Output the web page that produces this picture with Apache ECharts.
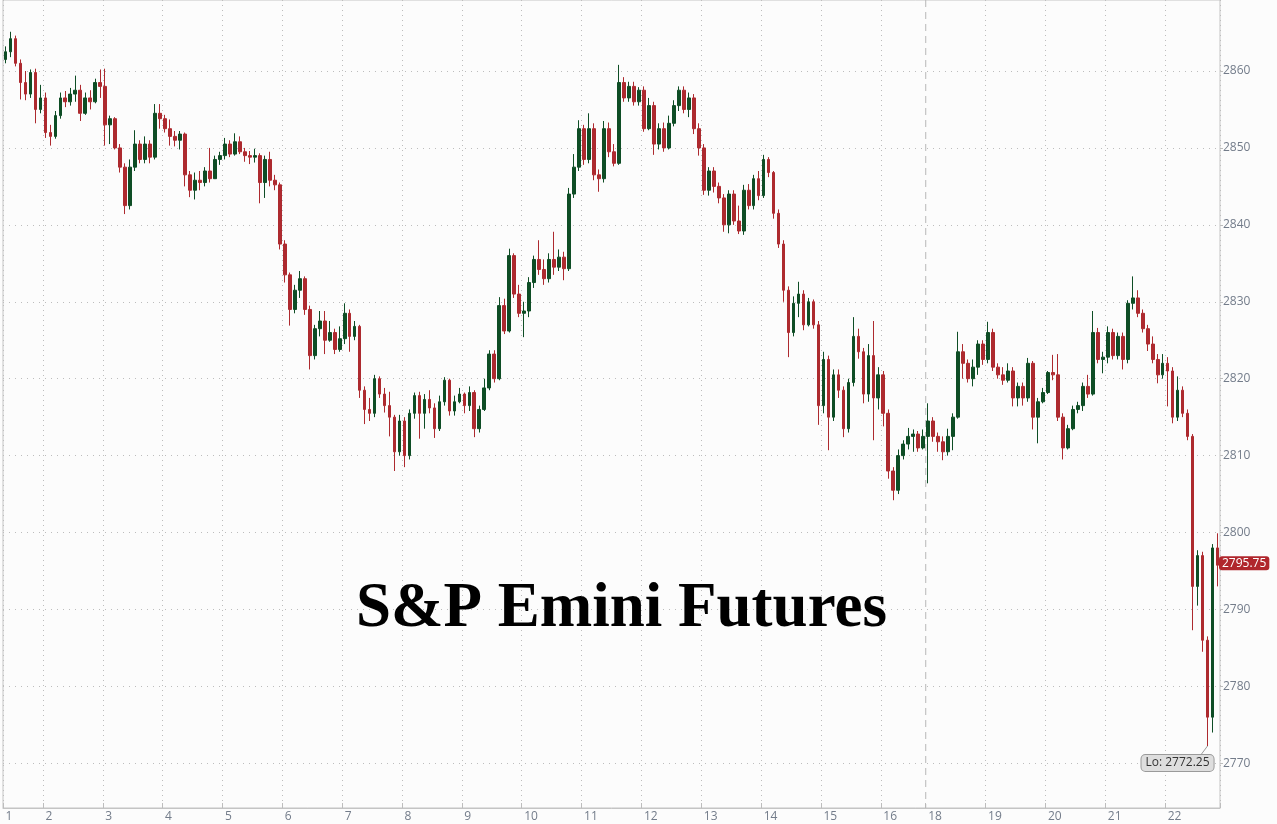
<!DOCTYPE html>
<html><head><meta charset="utf-8">
<script src="https://cdn.jsdelivr.net/npm/echarts@6/dist/echarts.min.js"></script>
<style>html,body{margin:0;padding:0;background:#fcfcfc;}#c{width:1277px;height:824px;}</style>
</head><body><div id="c"></div>
<script>
// ---- data: candles as [open, close, low, high] per trading day ----
const dayLabels = ['1','2','3','4','5','6','7','8','9','10','11','12','13','14','15','16','18','19','20','21','22'];
const day01 = [[2861.5,2862.5,2861,2863.2],[2862.5,2864.2,2861.8,2865.1],[2864.2,2861,2860.6,2864.6],[2861,2858.5,2856.3,2861.5],[2858.5,2857,2856.2,2860],[2857,2859.8,2856.5,2860.2],[2859.8,2855,2853.2,2860.3],[2855,2856.5,2854.5,2858.2]];
const day02 = [[2856.5,2852,2851.3,2857.2],[2852,2851.5,2850.3,2853],[2851.5,2854.2,2851.2,2854.8],[2854.2,2856.5,2853.8,2857.2],[2856.5,2856,2855.3,2857.4],[2856,2857,2855.5,2857.8],[2857,2857.5,2856,2859.4],[2857.5,2854.5,2853.5,2858.2],[2854.5,2856.5,2854.3,2857.2],[2856.5,2856,2855,2857.5],[2856,2858.5,2855.8,2859],[2858.5,2858,2856.5,2860.2]];
const day03 = [[2858,2853,2850.3,2860.3],[2853,2853.8,2850.5,2854.2],[2853.8,2850,2849.8,2854],[2850,2847.5,2846.8,2850.5],[2847.5,2842.5,2841.4,2848],[2842.5,2847.5,2842,2848.5],[2847.5,2850.5,2847,2852.3],[2850.5,2848.5,2848,2851],[2848.5,2850.5,2848,2851.5],[2850.5,2848.8,2848,2851],[2848.8,2854.5,2848.5,2855.7],[2854.5,2853.8,2852.5,2855.7]];
const day04 = [[2853.8,2852.5,2852,2854.3],[2852.5,2851.5,2850.3,2853.7],[2851.5,2851,2850.2,2852.2],[2851,2851.8,2849.8,2852.2],[2851.8,2846.5,2845,2852],[2846.5,2844.5,2843.6,2847],[2844.5,2845.8,2843.3,2846.8],[2845.8,2845.5,2844.5,2847],[2845.5,2847,2845,2847.5],[2847,2846,2845.5,2850],[2846,2848.5,2846,2849],[2848.5,2849,2847.8,2849.5]];
const day05 = [[2849,2850.5,2848.5,2851.3],[2850.5,2849.2,2848.8,2851],[2849.2,2850.8,2849,2851.9],[2850.8,2849.5,2849.2,2851.5],[2849.5,2849,2848.2,2850],[2849,2848.8,2847.9,2849.6],[2848.8,2849,2848.1,2849.9],[2849,2845.5,2842.8,2849.3],[2845.5,2848.5,2843.5,2849],[2848.5,2845.8,2845,2849.5],[2845.8,2845.2,2844.5,2846.5],[2845.2,2837.5,2836.8,2845.5]];
const day06 = [[2837.5,2833.5,2832.5,2838],[2833.5,2829,2826.9,2833.8],[2829,2831.5,2828.5,2832.2],[2831.5,2833,2830.5,2834],[2833,2829,2828.3,2833.3],[2829,2823,2821.2,2829.5],[2823,2826.5,2822.5,2827],[2826.5,2827.5,2825.5,2828.8],[2827.5,2825,2823.2,2828.8],[2825,2826,2824.8,2827.5],[2826,2823.8,2823.2,2826.5],[2823.8,2825.2,2823.5,2826.8]];
const day07 = [[2825.2,2828.5,2824.5,2829.8],[2828.5,2825.5,2823.5,2829],[2825.5,2826.8,2825,2827.5],[2826.8,2818.5,2817.5,2827],[2818.5,2816,2814.1,2819],[2816,2815.5,2814.5,2817.5],[2815.5,2820,2815,2820.5],[2820,2818,2817.5,2820.3],[2818,2816.5,2815.6,2818.8],[2816.5,2815,2812.5,2818.3],[2815,2810.5,2808,2815.3],[2810.5,2814.5,2810,2815.3]];
const day08 = [[2814.5,2810,2808.5,2815],[2810,2815.5,2809.5,2816],[2815.5,2817.8,2814.8,2818.2],[2817.8,2815.5,2812.2,2818.3],[2815.5,2817.3,2813.5,2818],[2817.3,2816.2,2815.5,2818.5],[2816.2,2813.5,2812.3,2816.8],[2813.5,2817,2813.2,2817.8],[2817,2819.8,2816.5,2820.2],[2819.8,2815.8,2815.2,2820],[2815.8,2817,2815.2,2817.8],[2817,2818,2816.8,2818.8]];
const day09 = [[2818,2816.5,2815.5,2818.2],[2816.5,2818.2,2815.8,2819],[2818.2,2813.5,2812.4,2818.5],[2813.5,2816,2813,2816.5],[2816,2818.8,2815.8,2820],[2818.8,2823.2,2818.5,2823.7],[2823.2,2820,2819.5,2823.7],[2820,2829.5,2819.8,2830.6],[2829.5,2826.2,2825.8,2830.4],[2826.2,2836,2826,2836.9],[2836,2831,2830.5,2836.3],[2831,2828.5,2828,2832.2]];
const day10 = [[2828.5,2828.8,2825.4,2830],[2828.8,2832.5,2828,2833.2],[2832.5,2835.5,2831.8,2836],[2835.5,2834.2,2833.5,2838],[2834.2,2833,2832.2,2835.5],[2833,2835.5,2832.5,2836.3],[2835.5,2834.5,2833.5,2839.1],[2834.5,2835.8,2834,2836.8],[2835.8,2834.3,2832.8,2836.5],[2834.3,2844,2834,2844.8],[2844,2847.5,2843.5,2849.2],[2847.5,2852.5,2847,2853.6]];
const day11 = [[2852.5,2848.5,2847.8,2853],[2848.5,2852.5,2848,2854.5],[2852.5,2846.5,2845.8,2853.2],[2846.5,2846,2844.3,2847.2],[2846,2852.5,2845.5,2853.5],[2852.5,2849.5,2848.8,2853.3],[2849.5,2848,2847.6,2850.5],[2848,2858.5,2847.8,2860.8],[2858.5,2856.5,2856,2859.2],[2856.5,2858,2856,2858.6],[2858,2856,2855.5,2858.6],[2856,2857.5,2855.5,2857.9]];
const day12 = [[2857.5,2852.5,2852.1,2858],[2852.5,2855.5,2852.3,2856.5],[2855.5,2850.5,2849.1,2856],[2850.5,2852.5,2849.8,2853.2],[2852.5,2850,2849.5,2853.3],[2850,2853.2,2849.8,2854.2],[2853.2,2855.5,2852.8,2856.2],[2855.5,2857.5,2854.8,2858],[2857.5,2855,2854.5,2858],[2855,2856.5,2854,2857.2],[2856.5,2852.5,2851.8,2857],[2852.5,2850,2849,2853.2]];
const day13 = [[2850,2844.5,2843.9,2850.5],[2844.5,2847,2843.8,2847.5],[2847,2845,2844.2,2847.5],[2845,2843.5,2842.8,2845.5],[2843.5,2840,2839.1,2844],[2840,2844,2838.9,2844.5],[2844,2840.5,2840,2844.5],[2840.5,2839.2,2838.8,2842.5],[2839.2,2844.5,2838.7,2845.2],[2844.5,2842.5,2842,2845.3],[2842.5,2846,2842,2846.5],[2846,2843.8,2843.2,2847]];
const day14 = [[2843.8,2848.5,2843.5,2849.1],[2848.5,2846.8,2846.2,2848.8],[2846.8,2841.5,2840.8,2847],[2841.5,2837.5,2837,2842],[2837.5,2831.5,2830,2838],[2831.5,2826,2822.8,2832],[2826,2829.8,2825.5,2830.7],[2829.8,2831,2828,2832.6],[2831,2827,2826.3,2831.5],[2827,2830,2826.8,2830.5],[2830,2827,2826.5,2830.3],[2827,2816.5,2814,2827.5]];
const day15 = [[2816.5,2822.5,2815.5,2823.5],[2822.5,2815,2810.7,2823],[2815,2820.5,2814.5,2821.2],[2820.5,2818.5,2817.5,2821.2],[2818.5,2813.5,2812.4,2819],[2813.5,2819.5,2813,2820],[2819.5,2825.5,2819,2828],[2825.5,2823.5,2822.6,2826.5],[2823.5,2818,2816.8,2824],[2818,2823,2817,2824.5],[2823,2817.5,2812,2827.5],[2817.5,2820.5,2816,2821.5]];
const day16 = [[2820.5,2815.5,2813.8,2821],[2815.5,2808,2807,2816],[2808,2805.5,2804.2,2808.5],[2805.5,2810,2805,2810.8],[2810,2811.5,2809.5,2812],[2811.5,2812.5,2810.8,2813.6],[2812.5,2812.8,2810.5,2813.4],[2812.8,2811,2810.5,2813.2],[2811,2812.5,2810.8,2813.4]];
const day18 = [[2812.5,2814.5,2806.4,2816.8],[2814.5,2812.5,2811.8,2815],[2812.5,2811.8,2810.5,2813],[2811.8,2810.5,2809.4,2812.5],[2810.5,2812.5,2810,2813.5],[2812.5,2815,2810.7,2815.5],[2815,2823.5,2814.8,2826.1],[2823.5,2822,2820,2824.5],[2822,2820,2819.5,2822.5],[2820,2821.5,2819,2822.5],[2821.5,2824.5,2820.5,2825],[2824.5,2822.5,2821.8,2825]];
const day19 = [[2822.5,2826,2822,2827.4],[2826,2821.5,2821,2826.5],[2821.5,2820.5,2820,2822],[2820.5,2819.8,2819.2,2821.5],[2819.8,2821,2819.5,2822],[2821,2817.5,2816.4,2821.5],[2817.5,2819,2816.4,2819.5],[2819,2817.5,2816.5,2819.5],[2817.5,2822,2817,2822.7],[2822,2815,2813.4,2822.3],[2815,2817,2811.6,2817.5],[2817,2818.2,2816.8,2818.8]];
const day20 = [[2818.2,2820.8,2818,2821],[2820.8,2820.5,2819.8,2823.1],[2820.5,2815,2814.5,2823.2],[2815,2811,2809.5,2815.5],[2811,2813.5,2810.8,2814],[2813.5,2816,2813.3,2816.5],[2816,2816.5,2815.5,2817],[2816.5,2819,2815.8,2819.5],[2819,2818,2817.5,2820.5],[2818,2826,2817.8,2828.8],[2826,2822.5,2822,2826.6],[2822.5,2822.8,2820.7,2823.5]];
const day21 = [[2822.8,2826,2822,2826.8],[2826,2823,2822.5,2826.5],[2823,2825.5,2822.5,2826],[2825.5,2822.5,2821.2,2826],[2822.5,2829.8,2822,2830.2],[2829.8,2830.5,2829,2833.3],[2830.5,2828.5,2828,2831.5],[2828.5,2826.5,2826,2829],[2826.5,2824.5,2823.6,2827],[2824.5,2822.5,2822,2825.5],[2822.5,2820.5,2819.4,2823.2],[2820.5,2822,2820,2823.2]];
const day22 = [[2822,2821,2816.4,2822.8],[2821,2815,2814.2,2821.5],[2815,2818.5,2814.5,2820.3],[2818.5,2815.5,2815,2819],[2815.5,2812.5,2812,2816],[2812.5,2793,2787.3,2812.8],[2793,2797,2790.5,2797.7],[2797,2786,2784.5,2797.5],[2786,2776,2772.25,2786.5],[2776,2798,2774,2798.5],[2798,2795.75,2793,2799.9]];
const days = [day01,day02,day03,day04,day05,day06,day07,day08,day09,day10,day11,day12,day13,day14,day15,day16,day18,day19,day20,day21,day22];
const yTickMin = 2760, yTickMax = 2870, yTickStep = 10;
const lowValue = 2772.25;
const lastValue = 2795.75;
const titleText = 'S&P Emini Futures';
const weekBreakLabel = '18';

// ---- build category list ----
const cats = [], candles = [], dayStart = {};
days.forEach((d, di) => {
  dayStart[cats.length] = dayLabels[di];
  d.forEach((c, k) => { cats.push(dayLabels[di] + '#' + k); candles.push(c); });
});

// ---- layout ----
const W = 1277, H = 824;
const gL = 3, gR = 57, gT = 0, gB = 16;
const yMinA = 2764.19, yMaxA = 2869.23;
const plotH = H - gT - gB;
const ppp = plotH / (yMaxA - yMinA);
const topB = gT - (yTickMax - yMaxA) * ppp;
const bottomB = gB - (yMinA - yTickMin) * ppp;
const labelColor = '#737c8a';
const gridColor = '#bdbdbd';
const fontFam = '"Open Sans", "Noto Sans", sans-serif';

const chart = echarts.init(document.getElementById('c'), null, {renderer: 'canvas'});
const isStart = (i) => Object.prototype.hasOwnProperty.call(dayStart, i);
const option = {
  backgroundColor: '#fcfcfc',
  animation: false,
  grid: [
    {left: gL, right: gR, top: gT, bottom: gB, show: true, borderColor: '#c4c4c4', borderWidth: 1, backgroundColor: 'transparent', outerBoundsMode: 'none', containLabel: false},
    {left: gL, right: gR, top: topB, bottom: bottomB, show: false, outerBoundsMode: 'none', containLabel: false}
  ],
  xAxis: [
    {type: 'category', gridIndex: 0, data: cats, boundaryGap: true,
     axisLine: {show: true, lineStyle: {color: '#c4c4c4'}},
     axisTick: {show: true, inside: true, length: 5, interval: (i) => isStart(i), lineStyle: {color: '#bdbdbd'}},
     axisLabel: {show: true, interval: (i) => isStart(i), formatter: (v) => String(v).split('#')[0], align: 'left',
                 color: labelColor, fontFamily: fontFam, fontSize: 12, margin: 3},
     splitLine: {show: true, interval: (i) => isStart(i) && dayStart[i] !== weekBreakLabel,
                 lineStyle: {color: gridColor, type: [1, 4], width: 1}}},
    {type: 'category', gridIndex: 1, data: cats, show: false}
  ],
  yAxis: [
    {type: 'value', gridIndex: 0, min: yMinA, max: yMaxA, show: false},
    {type: 'value', gridIndex: 1, min: yTickMin, max: yTickMax, interval: yTickStep, position: 'right',
     axisLine: {show: false},
     axisTick: {show: true, length: 3, lineStyle: {color: '#bdbdbd'}},
     axisLabel: {color: labelColor, fontFamily: fontFam, fontSize: 12, margin: 3, formatter: (v) => String(v)},
     splitLine: {show: true, lineStyle: {color: gridColor, type: [1, 5], width: 1}}}
  ],
  series: [{
    type: 'candlestick', xAxisIndex: 0, yAxisIndex: 0, data: candles, barWidth: 3.2,
    itemStyle: {color: '#0e4d25', color0: '#ad2a2f', borderColor: '#0e4d25', borderColor0: '#ad2a2f', borderWidth: 1}
  }]
};
chart.setOption(option);

const bw = (W - gL - gR) / cats.length;
const idx18 = Number(Object.keys(dayStart).find(k => dayStart[k] === weekBreakLabel));
const x18 = chart.convertToPixel({xAxisIndex: 0}, cats[idx18]) - bw / 2;
const lowIdx = candles.findIndex(c => c[2] === lowValue);
const lowPt = chart.convertToPixel({gridIndex: 0}, [cats[lowIdx], lowValue]);
const lastY = chart.convertToPixel({yAxisIndex: 0}, lastValue);

chart.setOption({graphic: [
  {type: 'line', silent: true, z: 1, shape: {x1: x18, y1: gT, x2: x18, y2: H - gB},
   style: {stroke: '#b8b8b8', lineWidth: 1, lineDash: [7, 5]}},
  {type: 'text', z: 20, x: 621.5, y: 610,
   style: {text: titleText, font: 'bold 63px "Liberation Serif", "Times New Roman", serif', fill: '#000', align: 'center', verticalAlign: 'middle'}},
  {type: 'line', z: 19, shape: {x1: lowPt[0] - 6, y1: lowPt[1] + 8, x2: lowPt[0], y2: lowPt[1]},
   style: {stroke: '#9a9a9a', lineWidth: 1}},
  {type: 'text', z: 20, x: lowPt[0] - 30, y: lowPt[1] + 17,
   style: {text: 'Lo: ' + lowValue.toFixed(2), font: '12px ' + fontFam, fill: '#333', align: 'center', verticalAlign: 'middle',
           backgroundColor: '#dedede', borderColor: '#9a9a9a', borderWidth: 1, borderRadius: 4, padding: [2, 4]}},
  {type: 'text', z: 20, x: W - gR - 1, y: lastY - 2,
   style: {text: lastValue.toFixed(2), font: '12px ' + fontFam, fill: '#fff', align: 'left', verticalAlign: 'middle',
           backgroundColor: '#b0262c', borderRadius: 3, padding: [1, 3, 1, 3]}}
]});
</script>
</body></html>
